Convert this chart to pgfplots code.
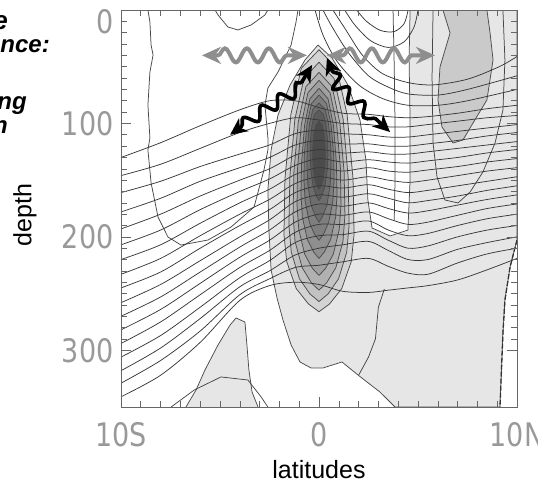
\documentclass[border=0pt]{standalone}
\usepackage{fontspec}
\setmainfont{Liberation Sans}
\newfontfamily\tickfont{DejaVu Sans}
\usepackage{pgfplots}
\pgfplotsset{compat=1.18}
\usetikzlibrary{decorations.pathmorphing,arrows.meta}
\definecolor{lev0}{HTML}{E6E6E6}
\definecolor{blob}{HTML}{CACACA}
\definecolor{k1}{HTML}{D3D3D3}
\definecolor{k2}{HTML}{C2C2C2}
\definecolor{k3}{HTML}{B1B1B1}
\definecolor{k4}{HTML}{A0A0A0}
\definecolor{k5}{HTML}{8F8F8F}
\definecolor{k6}{HTML}{7E7E7E}
\definecolor{k7}{HTML}{6D6D6D}
\definecolor{k8}{HTML}{5C5C5C}
\definecolor{k9}{HTML}{4B4B4B}
\definecolor{arrgray}{HTML}{8E8E8E}
\tikzset{cl/.style={black!72, line width=0.75pt, line join=round},
         hl/.style={black!78, line width=0.75pt, smooth, tension=0.5},
         ga/.style={arrgray, line width=4pt, {Stealth[length=19pt,width=17pt,inset=6pt]}-{Stealth[length=19pt,width=17pt,inset=6pt]},
           decorate, decoration={snake, amplitude=7pt, segment length=22pt, pre length=16pt, post length=16pt}},
         ba/.style={black, line width=3.6pt, {Stealth[length=17pt,width=16pt,inset=5pt]}-{Stealth[length=17pt,width=16pt,inset=5pt]},
           decorate, decoration={snake, amplitude=6pt, segment length=21pt, pre length=14pt, post length=14pt}}}
\newcommand{\tl}[1]{\scalebox{1}[1.2]{#1}}
\begin{document}
\begin{tikzpicture}
\useasboundingbox (-121pt,-77pt) rectangle (417pt,407pt);
\begin{axis}[
  scale only axis, width=396pt, height=397pt,
  xmin=-10, xmax=10, ymin=0, ymax=350, y dir=reverse,
  xtick={-10,0,10}, xticklabels={\tl{10S},\tl{0},\tl{10N}},
  ytick={0,100,200,300}, yticklabels={,\tl{100},\tl{200},\tl{300}},
  extra y ticks={0}, extra y tick labels={\tl{0}},
  extra y tick style={yticklabel style={yshift=-12pt}},
  minor x tick num=9, minor y tick num=9,
  tick align=inside, major tick length=10pt, minor tick length=6pt,
  tick style={black!60, line width=0.6pt},
  axis line style={black!60, line width=0.8pt},
  ticklabel style={font=\tickfont\fontsize{27}{27}\selectfont, text=black!40},
  xticklabel style={yshift=-12pt},
  yticklabel style={xshift=-4pt},
  /pgf/number format/assume math mode=true,
  xlabel={latitudes}, ylabel={depth},
  xlabel style={font=\fontsize{25}{25}\selectfont, at={(axis description cs:0.5,-0.158)}, anchor=center},
  ylabel style={font=\fontsize{25}{25}\selectfont, at={(axis description cs:-0.2424,0.4836)}, anchor=center, rotate=0},
  axis on top,
]
% ---- light gray region
\addplot[fill=lev0, draw=black!70, line width=0.75pt] coordinates {
 (4.60,0) (10,0) (10,202.8) (9.65,226.6) (9.39,255.7) (9.29,284.8) (9.14,350)
 (3.84,350) (3.08,336.8) (1.97,321.8) (1.16,310.3) (0.20,315.6) (-0.40,315.6)
 (-0.96,310.3) (-1.41,295.3) (-1.82,273.3) (-2.12,253.9) (-2.42,229.2) (-2.53,194)
 (-2.58,158.7) (-2.42,123.4) (-2.07,92.6) (-1.46,66.1) (-0.71,44.1) (-0.05,30.9)
 (0.66,42.3) (1.46,66.1) (2.07,97) (2.37,132.2) (2.47,167.5) (2.68,192.2)
 (3.59,199.2) (4.49,194) (4.60,149.9) (4.60,97) (4.55,44.1) (4.60,0)};
\addplot[fill=lev0, draw=black!70, line width=0.75pt] coordinates {
 (-6.72,350) (-6.21,335) (-5.76,317.4) (-5.10,295.3) (-4.49,277.7) (-4.19,271.5)
 (-3.74,275.1) (-3.64,295.3) (-3.54,317.4) (-3.38,336.8) (-3.08,350)};
\addplot[fill=blob, draw=black!70, line width=0.75pt] coordinates {
 (6.26,0) (6.62,20.3) (6.11,50.3) (6.01,79.3) (6.21,103.1) (6.77,117.3) (7.27,114.6)
 (7.78,99.6) (8.48,79.3) (8.79,44.1) (8.64,20.3) (8.48,0)};
% ---- tongue
\addplot[fill=k1, draw=black!70, line width=0.75pt] coordinates {
 (0,35) (-0.89,51.3) (-1.42,92.1) (-1.72,149.1) (-1.77,198) (-1.63,221.8) (-1.15,245.6) (-0.53,259.2) (0,266)
 (0.53,259.2) (1.15,245.6) (1.63,221.8) (1.77,198) (1.72,149.1) (1.42,92.1) (0.89,51.3) (0,35)};
\addplot[fill=k2, draw=black!70, line width=0.75pt] coordinates {
 (0,46) (-0.76,60.4) (-1.22,96.4) (-1.47,146.8) (-1.52,190) (-1.40,213.5) (-0.99,236.9) (-0.46,250.3) (0,257)
 (0.46,250.3) (0.99,236.9) (1.40,213.5) (1.52,190) (1.47,146.8) (1.22,96.4) (0.76,60.4) (0,46)};
\addplot[fill=k3, draw=black!70, line width=0.75pt] coordinates {
 (0,55) (-0.66,67.6) (-1.05,99.1) (-1.27,143.2) (-1.31,181) (-1.21,204.1) (-0.85,227.2) (-0.39,240.4) (0,247)
 (0.39,240.4) (0.85,227.2) (1.21,204.1) (1.31,181) (1.27,143.2) (1.05,99.1) (0.66,67.6) (0,55)};
\addplot[fill=k4, draw=black!70, line width=0.75pt] coordinates {
 (0,62) (-0.56,73) (-0.89,100.5) (-1.08,139) (-1.11,172) (-1.02,193.7) (-0.72,215.4) (-0.33,227.8) (0,234)
 (0.33,227.8) (0.72,215.4) (1.02,193.7) (1.11,172) (1.08,139) (0.89,100.5) (0.56,73) (0,62)};
\addplot[fill=k5, draw=black!70, line width=0.75pt] coordinates {
 (0,69) (-0.46,78.4) (-0.73,101.9) (-0.88,134.8) (-0.91,163) (-0.84,182.6) (-0.59,202.2) (-0.27,213.4) (0,219)
 (0.27,213.4) (0.59,202.2) (0.84,182.6) (0.91,163) (0.88,134.8) (0.73,101.9) (0.46,78.4) (0,69)};
\addplot[fill=k6, draw=black!70, line width=0.75pt] coordinates {
 (0,75) (-0.38,82.5) (-0.61,101.3) (-0.74,127.5) (-0.76,150) (-0.70,168.6) (-0.49,187.1) (-0.23,197.7) (0,203)
 (0.23,197.7) (0.49,187.1) (0.70,168.6) (0.76,150) (0.74,127.5) (0.61,101.3) (0.38,82.5) (0,75)};
\addplot[fill=k7, draw=black!70, line width=0.75pt] coordinates {
 (0,82) (-0.31,87.5) (-0.49,101.3) (-0.59,120.5) (-0.61,137) (-0.56,154.5) (-0.40,172) (-0.18,182) (0,187)
 (0.18,182) (0.40,172) (0.56,154.5) (0.61,137) (0.59,120.5) (0.49,101.3) (0.31,87.5) (0,82)};
\addplot[fill=k8, draw=black!70, line width=0.75pt] coordinates {
 (0,88) (-0.23,92) (-0.36,102) (-0.44,116) (-0.45,128) (-0.41,142) (-0.29,156) (-0.14,164) (0,168)
 (0.14,164) (0.29,156) (0.41,142) (0.45,128) (0.44,116) (0.36,102) (0.23,92) (0,88)};
\addplot[fill=k9, draw=black!70, line width=0.75pt] coordinates {
 (0,98) (-0.16,101.2) (-0.26,109.2) (-0.31,120.4) (-0.32,130) (-0.29,139.8) (-0.21,149.6) (-0.10,155.2) (0,158)
 (0.10,155.2) (0.21,149.6) (0.29,139.8) (0.32,130) (0.31,120.4) (0.26,109.2) (0.16,101.2) (0,98)};
% ---- other contours of the shaded field
\addplot[cl] coordinates {(-8.64,0) (-8.54,10.6) (-8.48,30.9) (-8.38,39.7) (-8.54,54.7) (-8.64,83.8) (-8.54,112.8)
 (-8.64,123.4) (-8.48,152.5) (-8.13,182.5) (-7.63,200.1) (-6.97,207.2) (-5.61,202.8) (-4.44,191.3) (-3.28,173.7)
 (-2.78,141.1) (-2.58,123.4) (-2.58,112.8) (-2.73,83.8) (-2.58,68.8) (-2.07,54.7) (-1.41,30.9) (-1.16,10.6) (-1.06,0)};
\addplot[cl] coordinates {(-5.25,0) (-5.10,4.4) (-4.60,15) (-4.09,17.6) (-3.43,13.2) (-2.73,4.4) (-2.58,0)};
\addplot[cl] coordinates {(5.76,0) (5.71,59.1) (5.76,117.3) (5.96,147.2) (6.36,167.5) (7.02,170.1) (7.63,160.5)
 (8.28,142.8) (8.89,117.3) (9.29,88.2) (9.39,44.1) (9.29,0)};
\addplot[cl] coordinates {(3.74,0) (3.80,50) (3.84,100) (3.84,150) (3.80,185)};
\addplot[cl] coordinates {(3.3,246) (3.0,262) (2.85,290) (2.5,306) (2.0,322)};
\addplot[cl] coordinates {(-7.47,350) (-6.3,335) (-4.95,323.5) (-3.59,326.2) (-2.93,341) (-2.58,350)};
\addplot[black!80, line width=1.3pt, dash pattern=on 5pt off 2pt] coordinates {(10,202.8) (9.65,226.6) (9.39,255.7) (9.29,284.8) (9.14,350)};
% ---- isotherm family
\addplot[hl] coordinates {(1.9,0) (2.4,10) (3.1,18) (3.8,19) (4.3,12) (4.5,0)};
\addplot[hl] coordinates {(1.3,0) (1.8,13) (2.6,27) (3.5,33) (4.3,28) (4.8,15) (5.0,0)};
\addplot[hl] coordinates {(0.7,0) (1.3,16) (2.2,40) (3.2,56) (4.5,64) (5.8,66) (7.5,61) (9.1,50) (10,41)};
\addplot[hl] coordinates {(0.2,0) (0.7,16) (1.5,38) (2.5,58) (3.5,68) (4.5,74) (6,75) (7.5,70) (10,58)};
\addplot[hl] coordinates {(-0.2,0) (0.2,22) (0.9,45) (2,66) (3.2,78) (4.5,84) (6,84) (7.5,80) (10,70)};
\addplot[hl] coordinates {(-10,130) (-8,117) (-6,102) (-4,88) (-2.5,80) (-1.2,80) (0,86) (1.2,91) (2.5,92) (3.5,94) (4.5,95) (5.5,94) (7,91) (8.5,87) (10,84)};
\addplot[hl] coordinates {(-10,146) (-8,136) (-6,122) (-4,108) (-2.5,100) (-1.2,95) (0,97) (1.2,100) (2.5,101) (3.5,103) (4.5,103) (5.5,101) (7,98) (8.5,95) (10,93)};
\addplot[hl] coordinates {(-10,161) (-8,151) (-6,138) (-4,127) (-2.5,119) (-1.2,109) (0,106) (1.2,109) (2.5,110) (3.5,112) (4.5,112) (5.5,110) (7,107) (8.5,104) (10,101)};
\addplot[hl] coordinates {(-10,178) (-8,166) (-6,151) (-4,139) (-2.5,130) (-1.2,119) (0,115) (1.2,118) (2.5,118) (3.5,120) (4.5,120) (5.5,118) (7,115) (8.5,111) (10,108)};
\addplot[hl] coordinates {(-10,193) (-8,180) (-6,164) (-4,150) (-2.5,140) (-1.2,128) (0,123) (1.2,126) (2.5,125) (3.5,127) (4.5,127) (5.5,125) (7,122) (8.5,119) (10,116)};
\addplot[hl] coordinates {(-10,207) (-8,194) (-6,176) (-4,160) (-2.5,149) (-1.2,137) (0,131) (1.2,134) (2.5,132) (3.5,134) (4.5,135) (5.5,133) (7,130) (8.5,126) (10,123)};
\addplot[hl] coordinates {(-10,220) (-8,207) (-6,188) (-4,170) (-2.5,158) (-1.2,145) (0,139) (1.2,142) (2.5,139) (3.5,142) (4.5,143) (5.5,141) (7,138) (8.5,134) (10,131)};
\addplot[hl] coordinates {(-10,233) (-8,219) (-6,199) (-4,180) (-2.5,167) (-1.2,153) (0,147) (1.2,150) (2.5,147) (3.5,150) (4.5,152) (5.5,150) (7,146) (8.5,142) (10,139)};
\addplot[hl] coordinates {(-10,245) (-8,231) (-6,210) (-4,190) (-2.5,176) (-1.2,161) (0,155) (1.2,157) (2.5,154) (3.5,158) (4.5,161) (5.5,159) (7,155) (8.5,151) (10,147)};
\addplot[hl] coordinates {(-10,258) (-8,242) (-6,221) (-4,200) (-2.5,185) (-1.2,169) (0,163) (1.2,165) (2.5,162) (3.5,166) (4.5,170) (5.5,168) (7,164) (8.5,159) (10,155)};
\addplot[hl] coordinates {(-10,270) (-8,253) (-6,231) (-4,209) (-2.5,194) (-1.2,178) (0,171) (1.2,173) (2.5,170) (3.5,175) (4.5,179) (5.5,177) (7,172) (8.5,167) (10,163)};
\addplot[hl] coordinates {(-10,282) (-8,264) (-6,241) (-4,218) (-2.5,203) (-1.2,187) (0,180) (1.2,181) (2.5,178) (3.5,184) (4.5,189) (5.5,187) (7,181) (8.5,175) (10,171)};
\addplot[hl] coordinates {(-10,294) (-8,275) (-6,251) (-4,227) (-2.5,212) (-1.2,196) (0,189) (1.2,189) (2.5,186) (3.5,194) (4.5,199) (5.5,197) (7,190) (8.5,184) (10,180)};
\addplot[hl] coordinates {(-10,306) (-8,287) (-6,262) (-4,236) (-2.5,221) (-1.2,205) (0,199) (1.2,198) (2.5,195) (3.5,203) (4.5,210) (5.5,208) (7,200) (8.5,194) (10,190)};
\addplot[hl] coordinates {(-10,318) (-8,298) (-6,272) (-4,244) (-2.5,230) (-1.2,216) (0,210) (1.2,207) (2.5,204) (3.5,212) (4.5,220) (5.5,220) (7,211) (8.5,205) (10,200)};
\addplot[hl] coordinates {(-10,329) (-8,309) (-6,283) (-4,251) (-2.5,237) (-1.2,227) (0,225) (1.2,222) (2.5,219) (3.5,226) (4.5,232) (5.5,233) (7,223) (8.5,215) (10,210)};
\addplot[hl] coordinates {(-10,341) (-8,322) (-6,293) (-4,256) (-2.5,243) (-1.2,240) (0,242) (1.2,248) (2.5,249) (3.5,247) (4.5,245) (5.5,243) (7,238) (8.5,229) (10,219)};
% ---- wave arrows
\addplot[ga] coordinates {(-5.91,40) (-0.61,40)};
\addplot[ga] coordinates {(0.4,40) (5.86,40)};
\addplot[ba] coordinates {(-4.49,110) (-3.48,97) (-1.11,70.5) (-0.35,48.5)};
\addplot[ba] coordinates {(0.4,42.3) (0.91,64.4) (2.22,85.5) (3.59,107.6)};
\end{axis}
\begin{scope}[every node/.style={font=\fontsize{24}{24}\selectfont\bfseries\itshape, inner sep=0pt}]
\node[anchor=base east, font=\fontsize{26}{26}\selectfont\bfseries\itshape] at (-113pt,377pt) {e};
\node[anchor=base east] at (-71pt,354pt) {nce:};
\node[anchor=base east] at (-94pt,297pt) {ng};
\node[anchor=base east] at (-113pt,273pt) {n};
\end{scope}
\end{tikzpicture}
\end{document}
